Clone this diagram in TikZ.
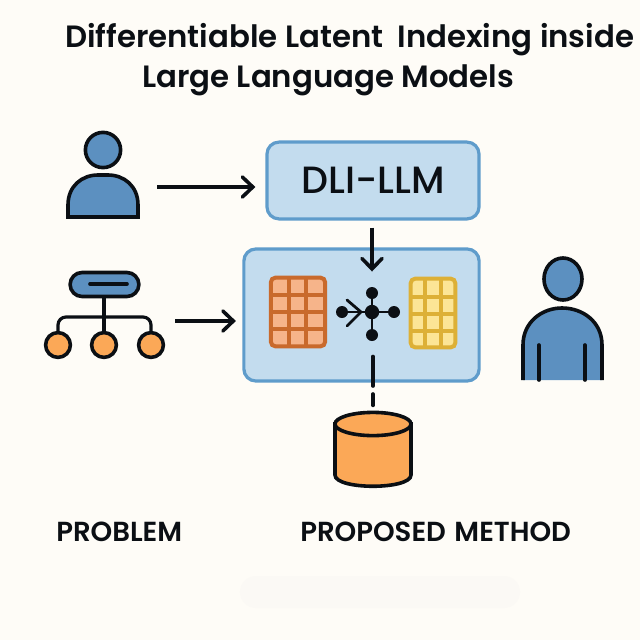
\documentclass[tikz,border=0pt]{standalone}
\usepackage{xcolor}
\usepackage{fontspec}
\setmainfont{Poppins}
\newfontfamily\semi{Poppins SemiBold}
\newfontfamily\medi{Poppins Medium}
\usepackage{tikz}
\usetikzlibrary{shapes.geometric,arrows.meta,positioning,calc}
\definecolor{paper}{HTML}{FEFCF7}
\definecolor{panel}{HTML}{C3DCEE}
\definecolor{primary}{HTML}{5F9CCB}
\definecolor{figblue}{HTML}{5C90C0}
\definecolor{accent}{HTML}{FBA857}
\definecolor{gridor}{HTML}{C96A2C}
\definecolor{cellor}{HTML}{F6B48A}
\definecolor{gridye}{HTML}{DDB036}
\definecolor{cellye}{HTML}{FCE596}
\definecolor{ink}{HTML}{0B0F14}

\begin{document}
\begin{tikzpicture}[
  x=0.025cm,y=-0.025cm,
  ink line/.style={draw=ink,line width=0.09cm},
  panelbox/.style={draw=primary,line width=0.08cm,rounded corners=0.3cm,fill=panel,inner sep=0pt},
  arr/.style={ink line,-{Straight Barb[length=0.26cm,width=0.5cm,line cap=round]}},
  cell/.style={rounded corners=0.12cm,line width=0.1cm,minimum height=1.72cm,inner sep=0pt},
  hubdot/.style={circle,fill=ink,inner sep=0pt,minimum size=0.3cm},
  leaf/.style={circle,ink line,fill=accent,inner sep=0pt,minimum size=0.62cm},
  person/.style={ink line,fill=figblue,line join=miter},
  heading/.style={font=\fontsize{21.9}{30}\semi,inner sep=0pt,anchor=west,text=ink},
  caption/.style={font=\fontsize{19.6}{22}\semi,inner sep=0pt,anchor=west,text=ink},
]
\useasboundingbox[fill=paper] (0,0) rectangle (640,640);

\node[heading] (title1) at (65,40) {Differentiable Latent\hspace{0.17cm} Indexing inside};
\node[heading] (title2) at (142,80) {Large Language Models};

% main boxes
\node[panelbox,minimum width=5.3cm,minimum height=1.92cm] (dli) at (373,180.5) {\fontsize{27}{30}\medi\color{ink} DLI-LLM};
\node[panelbox,minimum width=5.88cm,minimum height=3.3cm] (core) at (361.5,315) {};

% left user
\node[circle,person,inner sep=0pt,minimum size=0.88cm] (head1) at (103,150) {};
\draw[person] (68,217) -- (68,205) .. controls (68,186) and (82,175) .. (98,175) -- (108,175) .. controls (124,175) and (138,186) .. (138,205) -- (138,217) -- cycle;
\coordinate (user1) at (157,187);

% tree
\node[draw=ink,line width=0.09cm,fill=figblue,rounded corners=0.3cm,minimum width=1.72cm,minimum height=0.6cm,inner sep=0pt] (root) at (104.5,284.5) {};
\coordinate (barl) at (90,284);
\coordinate (barr) at (127,284);
\draw[ink line,line cap=round] (barl) -- (barr);
\node[leaf] (leaf1) at (58,345) {};
\node[leaf] (leaf2) at (104,345) {};
\node[leaf] (leaf3) at (151,345) {};
\coordinate (fork) at (104,317);
\draw[ink line,line width=0.08cm] (root.south -| leaf2) -- (leaf2.north);
\draw[ink line,line width=0.08cm,rounded corners=0.2cm] (leaf1.north) |- (fork) -| (leaf3.north);
\coordinate (tree) at (175,321);

% tables
\node[cell,draw=gridor,fill=cellor,minimum width=1.36cm] (tabA) at (298,312) {};
\foreach \x in {289,306} \draw[draw=gridor,line width=0.09cm] (\x,277) -- (\x,347);
\foreach \y in {295,312,329} \draw[draw=gridor,line width=0.09cm] (270,\y) -- (325,\y);
\node[cell,draw=gridye,fill=cellye,minimum width=1.12cm] (tabB) at (433,313) {};
\foreach \x in {425,441} \draw[draw=gridye,line width=0.09cm] (\x,279) -- (\x,347);
\foreach \y in {297,314,331} \draw[draw=gridye,line width=0.09cm] (410,\y) -- (456,\y);

% hub
\node[hubdot,minimum size=0.36cm] (hub) at (372,312) {};
\node[hubdot] (hubT) at (372,293) {};
\node[hubdot] (hubB) at (372,335) {};
\node[hubdot] (hubL) at (342,312) {};
\node[hubdot] (hubR) at (394,312) {};
\foreach \n in {hubT,hubB,hubL,hubR} \draw[ink line,line width=0.07cm] (hub) -- (\n);
\coordinate (chevA) at (347,300);
\coordinate (chevB) at (361,312);
\coordinate (chevC) at (347,326);
\draw[ink line,line width=0.07cm,line cap=round] (chevA) -- (chevB) -- (chevC);

% store
\draw[ink line,fill=accent] (335,424) -- (335,475) .. controls (335,490) and (411,490) .. (411,475) -- (411,424) -- cycle;
\node[ellipse,ink line,fill=accent,inner sep=0pt,minimum width=1.9cm,minimum height=0.58cm] (store) at (373,424) {};

% right user
\node[ellipse,person,inner sep=0pt,minimum width=0.95cm,minimum height=1.05cm] (head2) at (563,279) {};
\draw[person,fill=figblue] (523,380) -- (523,345) .. controls (523,322) and (542,308) .. (562,308) .. controls (583,308) and (602,322) .. (602,345) -- (602,380);
\coordinate (armL) at (539,345);
\coordinate (armR) at (585,345);
\draw[ink line,line cap=round] (armL) -- ++(0,35);
\draw[ink line,line cap=round] (armR) -- ++(0,35);

% arrows
\draw[arr,shorten >=0.25cm] (user1) -- (user1 -| dli.west);
\draw[arr,shorten >=0.16cm] (tree) -- (tree -| core.west);
\draw[arr,shorten <=0.18cm,shorten >=0.38cm] (dli.south -| hub) -- (hubT.north);
\coordinate (dashmid) at (373,386);
\coordinate (dashtop) at (373,394);
\draw[ink line,line cap=round,shorten <=0.38cm] (hubB.south -| dashmid) -- (dashmid);
\draw[ink line,line cap=round,shorten >=0.13cm] (dashtop) -- (store.north);

\node[caption] (lbl1) at (56,532) {PROBLEM};
\node[caption] (lbl2) at (300,532) {PROPOSED\hspace{0.05cm}\ METHOD};

\node[fill=black!1!paper,rounded corners=0.4cm,minimum width=7cm,minimum height=0.8cm,inner sep=0pt] (blob) at (380,592) {};
\end{tikzpicture}
\end{document}
